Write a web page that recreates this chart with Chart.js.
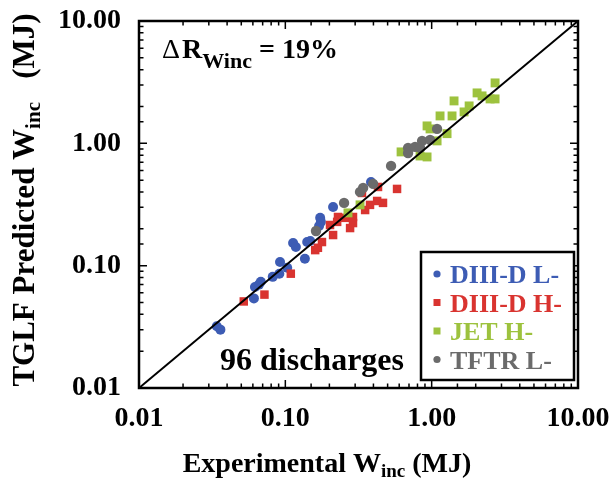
<!DOCTYPE html>
<html>
<head>
<meta charset="utf-8">
<title>TGLF predicted vs experimental stored energy</title>
<script src="https://cdn.jsdelivr.net/npm/chart.js@4"></script>
<style>
  html, body { margin: 0; padding: 0; background: #fff; }
</style>
</head>
<body>
<canvas id="chart" width="615" height="482"></canvas>
<script>
// Incremental stored energy W_inc (MJ): experiment vs TGLF prediction
const diiidL_exp  = [0.034, 0.036, 0.061, 0.062, 0.066, 0.068, 0.082, 0.091, 0.103, 0.092, 0.136, 0.113, 0.118, 0.141, 0.148, 0.173, 0.175, 0.170, 0.212, 0.385]
const diiidL_tglf = [0.032, 0.030, 0.054, 0.067, 0.070, 0.074, 0.081, 0.086, 0.096, 0.107, 0.114, 0.153, 0.142, 0.156, 0.159, 0.246, 0.228, 0.211, 0.302, 0.483]

const diiidH_exp  = [0.052, 0.072, 0.109, 0.160, 0.167, 0.178, 0.212, 0.202, 0.226, 0.229, 0.256, 0.290, 0.290, 0.277, 0.351, 0.379, 0.424, 0.465, 0.430, 0.580, 0.334]
const diiidH_tglf = [0.051, 0.058, 0.086, 0.134, 0.140, 0.156, 0.178, 0.215, 0.228, 0.250, 0.246, 0.223, 0.250, 0.203, 0.285, 0.314, 0.338, 0.326, 0.440, 0.424, 0.393]

const jetH_exp  = [0.268, 0.324, 0.618, 0.833, 0.930, 0.930, 0.975, 1.089, 1.274, 1.141, 1.378, 1.422, 1.665, 1.803, 2.043, 2.210, 2.507, 2.712, 2.712]
const jetH_tglf = [0.270, 0.314, 0.851, 0.788, 0.774, 1.388, 1.312, 1.047, 1.200, 1.675, 1.675, 2.222, 1.806, 2.022, 2.583, 2.442, 2.307, 2.307, 3.118]

const tftrL_exp  = [0.162, 0.252, 0.324, 0.340, 0.398, 0.528, 0.690, 0.690, 0.770, 0.833, 0.860, 0.975, 1.089]
const tftrL_tglf = [0.192, 0.326, 0.401, 0.432, 0.466, 0.654, 0.917, 0.834, 0.935, 0.917, 1.047, 1.066, 1.312]

// perfect-agreement line
const unityLine = [0.01, 10]
const majorTicks = [0.01, 0.1, 1, 10]

const SERIF = "'Liberation Serif', 'Times New Roman', serif"

function pairs(xs, ys) {
  return xs.map((x, i) => ({ x: x, y: ys[i] }))
}

function isMajor(v) {
  return majorTicks.some(m => Math.abs(v - m) < m * 1e-6)
}

// draw a row of text pieces (for subscripts), returns total width
function drawRuns(ctx, runs, x, y, align) {
  let total = 0
  runs.forEach(r => {
    ctx.font = (r.weight || 'bold') + ' ' + r.size + 'px ' + SERIF
    r.w = ctx.measureText(r.text).width + (r.gap || 0)
    total += r.w
  })
  let cx = align === 'center' ? x - total / 2 : x
  runs.forEach(r => {
    ctx.font = (r.weight || 'bold') + ' ' + r.size + 'px ' + SERIF
    ctx.fillText(r.text, cx, y + (r.dy || 0))
    cx += r.w
  })
  return total
}

const decorations = {
  id: 'decorations',
  afterDraw(chart) {
    const ctx = chart.ctx
    const area = chart.chartArea
    const xs = chart.scales.x
    const ys = chart.scales.y

    ctx.save()
    ctx.strokeStyle = '#000'
    ctx.lineWidth = 1.5

    // inward ticks on all four sides
    xs.ticks.forEach(t => {
      const px = xs.getPixelForValue(t.value)
      const len = isMajor(t.value) ? 8 : 4.5
      ctx.beginPath()
      ctx.moveTo(px, area.bottom); ctx.lineTo(px, area.bottom - len)
      ctx.moveTo(px, area.top); ctx.lineTo(px, area.top + len)
      ctx.stroke()
    })
    ys.ticks.forEach(t => {
      const py = ys.getPixelForValue(t.value)
      const len = isMajor(t.value) ? 8 : 4.5
      ctx.beginPath()
      ctx.moveTo(area.left, py); ctx.lineTo(area.left + len, py)
      ctx.moveTo(area.right, py); ctx.lineTo(area.right - len, py)
      ctx.stroke()
    })

    // frame
    ctx.lineWidth = 2.5
    ctx.strokeRect(area.left, area.top, area.right - area.left, area.bottom - area.top)

    ctx.fillStyle = '#000'
    ctx.textBaseline = 'alphabetic'

    // axis titles
    drawRuns(ctx, [
      { text: 'Experimental W', size: 28 },
      { text: 'inc', size: 19, dy: 5 },
      { text: ' (MJ)', size: 28 }
    ], 327, 472, 'center')

    ctx.save()
    ctx.translate(34, 200)
    ctx.rotate(-Math.PI / 2)
    drawRuns(ctx, [
      { text: 'TGLF Predicted W', size: 31 },
      { text: 'inc', size: 21, dy: 6 },
      { text: '   (MJ)', size: 31 }
    ], 0, 0, 'center')
    ctx.restore()

    // annotations inside the plot
    drawRuns(ctx, [
      { text: '\u0394', size: 28, weight: 'normal', gap: 2 },
      { text: 'R', size: 28 },
      { text: 'Winc', size: 22, dy: 10 },
      { text: ' = 19%', size: 28 }
    ], area.left + 23, 58, 'left')

    drawRuns(ctx, [{ text: '96 discharges', size: 32 }], 220, 370, 'left')

    // legend box
    const bx = 421, by = 252, bw = 153, bh = 128
    ctx.fillStyle = '#fff'
    ctx.fillRect(bx, by, bw, bh)
    ctx.lineWidth = 2.5
    ctx.strokeRect(bx, by, bw, bh)

    const entries = chart.data.datasets.filter(d => d.legend)
    entries.sort((a, b) => a.legend - b.legend)
    entries.forEach((d, i) => {
      const base = 283 + i * 28.5
      const mx = 437, my = base - 9
      ctx.fillStyle = d.backgroundColor
      if (d.pointStyle === 'rect') {
        ctx.fillRect(mx - 3.5, my - 3.5, 7, 7)
      } else {
        ctx.beginPath()
        ctx.arc(mx, my, 3.6, 0, Math.PI * 2)
        ctx.fill()
      }
      drawRuns(ctx, [{ text: d.label, size: 26 }], 450, base, 'left')
    })

    ctx.restore()
  }
}

const axisFont = { family: SERIF, weight: 'bold', size: 28 }

new Chart(document.getElementById('chart'), {
  type: 'scatter',
  data: {
    datasets: [
      {
        type: 'line',
        label: 'unity',
        data: pairs(unityLine, unityLine),
        borderColor: '#000',
        borderWidth: 2,
        pointRadius: 0,
        fill: false
      },
      {
        label: 'TFTR L-',
        legend: 4,
        data: pairs(tftrL_exp, tftrL_tglf),
        backgroundColor: '#6b6b6b',
        pointStyle: 'circle',
        pointRadius: 5.2,
        borderWidth: 0
      },
      {
        label: 'JET H-',
        legend: 3,
        data: pairs(jetH_exp, jetH_tglf),
        backgroundColor: '#9dc23e',
        pointStyle: 'rect',
        pointRadius: 6.3,
        borderWidth: 0
      },
      {
        label: 'DIII-D H-',
        legend: 2,
        data: pairs(diiidH_exp, diiidH_tglf),
        backgroundColor: '#d93430',
        pointStyle: 'rect',
        pointRadius: 6,
        borderWidth: 0
      },
      {
        label: 'DIII-D L-',
        legend: 1,
        data: pairs(diiidL_exp, diiidL_tglf),
        backgroundColor: '#3d5cb4',
        pointStyle: 'circle',
        pointRadius: 5,
        borderWidth: 0
      }
    ]
  },
  options: {
    responsive: false,
    animation: false,
    devicePixelRatio: 1,
    layout: { padding: { top: 21, right: 37, left: 0, bottom: 0 } },
    plugins: {
      legend: { display: false },
      tooltip: { enabled: false }
    },
    scales: {
      x: {
        type: 'logarithmic',
        min: 0.01,
        max: 10,
        grid: { display: false, drawTicks: false },
        border: { display: false },
        ticks: {
          autoSkip: false,
          maxRotation: 0,
          padding: 14,
          color: '#000',
          font: axisFont,
          callback: v => isMajor(v) ? v.toFixed(2) : ''
        },
        afterFit(scale) {
          scale.height = 94
          scale.paddingLeft = 0
          scale.paddingRight = 0
        }
      },
      y: {
        type: 'logarithmic',
        min: 0.01,
        max: 10,
        grid: { display: false, drawTicks: false },
        border: { display: false },
        ticks: {
          autoSkip: false,
          padding: 18,
          color: '#000',
          font: axisFont,
          callback: v => isMajor(v) ? v.toFixed(2) : ''
        },
        afterFit(scale) {
          scale.width = 139
          scale.paddingTop = 0
          scale.paddingBottom = 0
        }
      }
    }
  },
  plugins: [decorations]
})
</script>
</body>
</html>
